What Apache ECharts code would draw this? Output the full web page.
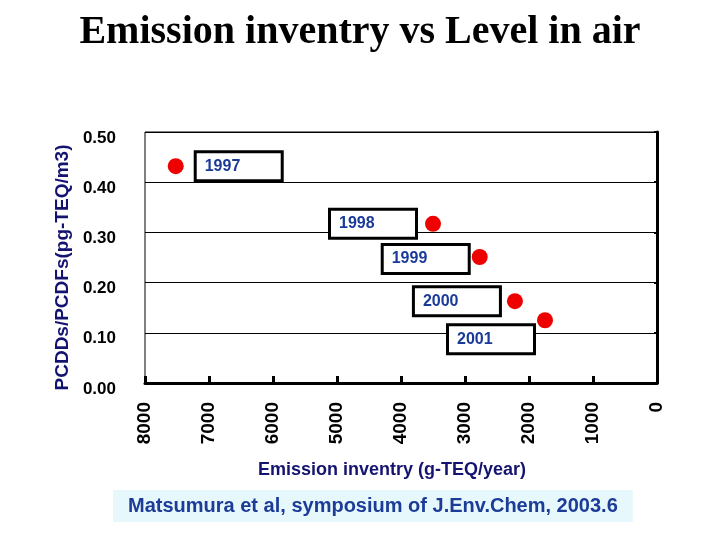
<!DOCTYPE html>
<html>
<head>
<meta charset="utf-8">
<script src="https://cdn.jsdelivr.net/npm/echarts@6/dist/echarts.min.js"></script>
<style>
  html, body { margin: 0; padding: 0; background: #fff; }
  #chart { width: 720px; height: 540px; }
</style>
</head>
<body>
<div id="chart"></div>
<script>
// data
var years = ['1997', '1998', '1999', '2000', '2001'];
var emission = [7520, 3500, 2770, 2220, 1750];   // g-TEQ/year
var level = [0.432, 0.317, 0.251, 0.163, 0.125];  // pg-TEQ/m3
// left edge of each year's box relative to its dot
var labelOffsets = [[21, 0], [-102, 0], [-96, 2], [-100, 0], [-96, 19]];

var chart = echarts.init(document.getElementById('chart'));

var points = years.map(function (y, i) {
  return {
    name: y,
    value: [emission[i], level[i]],
    label: { offset: labelOffsets[i] }
  };
});

var option = {
  backgroundColor: '#fff',
  animation: false,
  title: [
    {
      text: 'Emission inventry vs Level in air',
      left: 'center',
      top: 8,
      textStyle: {
        fontFamily: '"Liberation Serif", "Times New Roman", serif',
        fontWeight: 'bold',
        fontSize: 40,
        color: '#000'
      }
    },
    {
      text: 'Matsumura et al, symposium of J.Env.Chem, 2003.6',
      left: 113,
      top: 490,
      padding: [6, 15, 6, 15],
      backgroundColor: '#e6f8fc',
      textStyle: {
        fontFamily: '"Liberation Sans", Arial, sans-serif',
        fontWeight: 'bold',
        fontSize: 20,
        color: '#1c3c98'
      }
    }
  ],
  grid: {
    left: 145, right: 63, top: 132, bottom: 157,
    show: true,
    borderColor: '#000',
    borderWidth: 1
  },
  xAxis: {
    type: 'value',
    inverse: true,
    min: 0,
    max: 8000,
    interval: 1000,
    name: 'Emission inventry (g-TEQ/year)',
    nameLocation: 'middle',
    nameGap: 78,
    nameTextStyle: {
      fontFamily: '"Liberation Sans", Arial, sans-serif',
      fontWeight: 'bold',
      fontSize: 18,
      color: '#141470',
      padding: [0, 18, 0, 0]
    },
    axisLine: { lineStyle: { color: '#000', width: 3 } },
    axisTick: { inside: true, length: 7, lineStyle: { color: '#000', width: 3 } },
    splitLine: { show: false },
    axisLabel: {
      rotate: 90,
      margin: 19,
      formatter: function (v) { return String(v); },
      fontFamily: '"Liberation Sans", Arial, sans-serif',
      fontWeight: 'bold',
      fontSize: 19,
      color: '#000'
    }
  },
  yAxis: {
    type: 'value',
    min: 0,
    max: 0.5,
    interval: 0.1,
    name: 'PCDDs/PCDFs(pg-TEQ/m3)',
    nameLocation: 'middle',
    nameGap: 68,
    nameTextStyle: {
      fontFamily: '"Liberation Sans", Arial, sans-serif',
      fontWeight: 'bold',
      fontSize: 19,
      color: '#141470',
      padding: [0, 20, 0, 0]
    },
    axisLine: { show: true, lineStyle: { color: '#000', width: 3 } },
    axisTick: { show: true, length: 3, lineStyle: { color: '#000', width: 2 } },
    splitLine: { show: true, lineStyle: { color: '#000', width: 1 } },
    axisLabel: {
      margin: 29,
      verticalAlign: 'top',
      lineHeight: 12,
      formatter: function (v) { return v.toFixed(2); },
      fontFamily: '"Liberation Sans", Arial, sans-serif',
      fontWeight: 'bold',
      fontSize: 17,
      color: '#000'
    }
  },
  series: [
    {
      type: 'scatter',
      symbol: 'circle',
      symbolSize: 16,
      itemStyle: { color: '#ee0000', opacity: 1 },
      data: points,
      emphasis: { disabled: true },
      label: {
        show: true,
        position: 'inside',
        formatter: '{b}',
        width: 70,
        height: 26,
        lineHeight: 26,
        align: 'left',
        verticalAlign: 'middle',
        padding: [0, 6, 0, 8],
        backgroundColor: '#fff',
        borderColor: '#000',
        borderWidth: 3,
        textBorderWidth: 0,
        textShadowBlur: 0,
        fontFamily: '"Liberation Sans", Arial, sans-serif',
        fontWeight: 'bold',
        fontSize: 16,
        color: '#1a3a9a'
      }
    }
  ]
};

chart.setOption(option);
</script>
</body>
</html>
